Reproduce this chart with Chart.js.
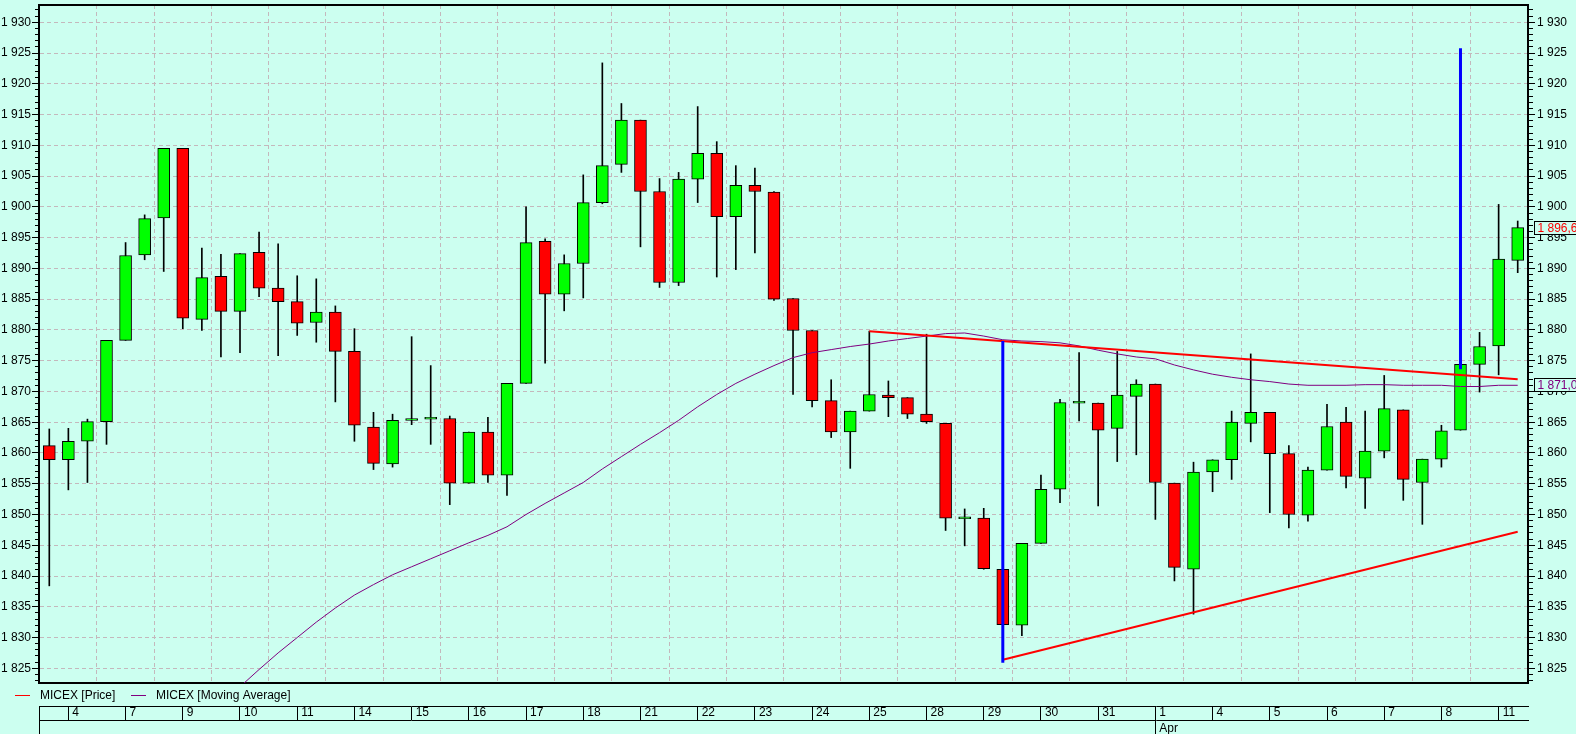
<!DOCTYPE html>
<html>
<head>
<meta charset="utf-8">
<title>MICEX</title>
<script src="https://cdn.jsdelivr.net/npm/chart.js@4.4.1/dist/chart.umd.min.js"></script>
<style>
    html, body { margin: 0; padding: 0; background: #ccfff0; }
    #wrap { width: 1576px; height: 734px; }
</style>
</head>
<body>
<div id="wrap"><canvas id="graficoMicex" width="1576" height="734"></canvas></div>
<script>
// candle values, one per period (3 per trading day)
const opens = [1861.2, 1858.9, 1861.9, 1865.1, 1878.3, 1892.2, 1898.2, 1909.5, 1881.7, 1888.7,
    1883.0, 1892.6, 1886.8, 1884.6, 1881.2, 1882.9, 1876.5, 1864.2, 1858.2, 1865.3,
    1865.5, 1865.6, 1855.1, 1863.4, 1856.4, 1871.3, 1894.4, 1885.8, 1890.8, 1900.7,
    1906.9, 1914.1, 1902.5, 1887.7, 1904.5, 1908.7, 1898.4, 1903.5, 1902.4, 1885.1,
    1879.9, 1868.5, 1863.4, 1866.8, 1869.4, 1869.0, 1866.3, 1864.8, 1849.3, 1849.4,
    1841.1, 1832.0, 1845.3, 1854.1, 1868.1, 1868.1, 1864.0, 1869.2, 1871.2, 1855.1,
    1841.1, 1856.9, 1858.9, 1864.8, 1866.6, 1859.9, 1849.9, 1857.2, 1865.0, 1855.9,
    1860.3, 1867.0, 1855.2, 1859.0, 1863.7, 1874.4, 1877.4, 1891.3];
const highs = [1863.9, 1864.0, 1865.5, 1878.3, 1894.2, 1898.7, 1909.5, 1909.5, 1893.3, 1892.3,
    1892.4, 1895.9, 1894.0, 1888.8, 1888.3, 1883.9, 1880.2, 1866.6, 1866.3, 1878.9,
    1874.2, 1866.0, 1863.4, 1865.8, 1871.3, 1900.0, 1894.8, 1892.2, 1905.2, 1923.4,
    1916.8, 1914.1, 1904.6, 1905.6, 1916.3, 1910.6, 1906.7, 1906.3, 1902.5, 1885.1,
    1879.9, 1871.9, 1866.8, 1879.8, 1871.7, 1869.0, 1879.3, 1864.8, 1850.9, 1851.0,
    1841.1, 1845.3, 1856.4, 1868.7, 1876.3, 1868.1, 1876.5, 1871.9, 1871.2, 1855.1,
    1858.5, 1858.9, 1866.8, 1876.1, 1866.6, 1861.2, 1857.7, 1867.9, 1867.4, 1866.8,
    1872.6, 1867.0, 1859.0, 1864.5, 1874.4, 1879.6, 1900.4, 1897.7];
const lows = [1838.4, 1854.0, 1855.2, 1861.4, 1878.3, 1891.4, 1889.5, 1880.2, 1879.9, 1875.6,
    1876.3, 1885.4, 1875.8, 1879.1, 1878.0, 1868.3, 1861.9, 1857.3, 1857.7, 1864.6,
    1861.4, 1851.6, 1855.1, 1855.2, 1853.1, 1871.3, 1874.6, 1883.1, 1885.2, 1900.5,
    1905.6, 1893.5, 1886.9, 1887.2, 1900.7, 1888.6, 1889.8, 1892.5, 1884.8, 1869.5,
    1867.5, 1862.5, 1857.5, 1866.8, 1865.9, 1865.6, 1864.8, 1847.4, 1844.9, 1841.1,
    1832.0, 1830.3, 1845.3, 1851.9, 1865.2, 1851.4, 1858.6, 1859.7, 1849.2, 1839.2,
    1833.8, 1853.7, 1855.7, 1861.8, 1850.3, 1847.8, 1848.9, 1857.2, 1854.3, 1851.0,
    1859.2, 1852.3, 1848.4, 1857.7, 1863.7, 1869.9, 1872.7, 1889.3];
const closes = [1858.9, 1861.9, 1865.1, 1878.3, 1892.1, 1898.1, 1909.5, 1881.9, 1888.5, 1883.0,
    1892.4, 1886.8, 1884.6, 1881.1, 1882.9, 1876.5, 1864.5, 1858.3, 1865.3, 1865.6,
    1865.8, 1855.1, 1863.4, 1856.4, 1871.3, 1894.2, 1885.8, 1890.8, 1900.7, 1906.7,
    1914.1, 1902.5, 1887.7, 1904.5, 1908.7, 1898.4, 1903.5, 1902.5, 1885.0, 1879.9,
    1868.5, 1863.4, 1866.8, 1869.5, 1869.0, 1866.3, 1865.1, 1849.4, 1849.6, 1841.2,
    1832.1, 1845.3, 1854.1, 1868.2, 1868.4, 1863.7, 1869.4, 1871.2, 1855.2, 1841.4,
    1856.9, 1858.9, 1865.0, 1866.6, 1859.9, 1850.0, 1857.2, 1864.3, 1856.2, 1860.3,
    1867.2, 1855.7, 1859.0, 1863.6, 1874.4, 1877.3, 1891.5, 1896.63];

// moving average, starting at period maStart
const maStart = 9;
const maValues = [1819.5, 1822.0, 1824.8, 1827.5, 1830.0, 1832.5, 1834.8, 1836.9, 1838.6, 1840.2,
    1841.5, 1842.8, 1844.1, 1845.4, 1846.6, 1848.0, 1850.0, 1851.8, 1853.5, 1855.2,
    1857.4, 1859.4, 1861.4, 1863.3, 1865.3, 1867.5, 1869.5, 1871.3, 1872.8, 1874.2,
    1875.5, 1876.3, 1876.8, 1877.3, 1877.7, 1878.2, 1878.6, 1879.0, 1879.4, 1879.5,
    1879.0, 1878.4, 1878.2, 1878.1, 1877.9, 1877.4, 1876.7, 1876.1, 1875.6, 1875.3,
    1874.3, 1873.5, 1872.8, 1872.3, 1871.9, 1871.6, 1871.2, 1871.0, 1871.0, 1871.0,
    1871.1, 1871.1, 1871.0, 1871.0, 1871.0, 1870.8, 1870.8, 1871.0, 1871.0];

// drawn lines: [period, value]
const resistanceLine = [[43, 1879.8], [77, 1872.0]];
const supportLine = [[50, 1826.4], [77, 1847.2]];
const projectionA = [[50, 1825.9], [50, 1878.2]];
const projectionB = [[74, 1873.6], [74, 1925.8]];

// date axis
const dayStarts = [1, 4, 7, 10, 13, 16, 19, 22, 25, 28, 31, 34, 37, 40, 43, 46, 49, 52, 55, 58, 61, 64, 67, 70, 73, 76];
const dayLabels = ['4', '7', '9', '10', '11', '14', '15', '16', '17', '18', '21', '22', '23', '24', '25', '28', '29', '30', '31', '1', '4', '5', '6', '7', '8', '11'];
const monthStarts = [58];
const monthLabels = ['Apr'];

const xMin = -0.54, xMax = 77.54;
const yMin = 1822.61, yMax = 1932.81;

const bg = '#ccfff0';
const gridColor = '#c4b8bc';
const fontFamily = '"Liberation Sans", Arial, sans-serif';

Chart.defaults.font.family = fontFamily;
Chart.defaults.font.size = 12;
Chart.defaults.color = '#000';

function fmt(v, decimals) {
    const parts = v.toFixed(decimals).split('.');
    const intPart = parts[0].replace(/\B(?=(\d{3})+(?!\d))/g, ' ');
    return parts.length > 1 ? intPart + ',' + parts[1] : intPart;
}

function toPoints(arr) {
    return arr.map(p => ({x: p[0], y: p[1]}));
}

function integerTicks(scale) {
    const ticks = [];
    for (let v = Math.ceil(scale.min); v <= Math.floor(scale.max); v++) ticks.push({value: v});
    scale.ticks = ticks;
}

function noPadding(scale) {
    scale.paddingTop = 0;
    scale.paddingBottom = 0;
    scale.paddingLeft = 0;
    scale.paddingRight = 0;
}

const isMajor = ctx => ctx.tick && ctx.tick.value % 5 === 0;

const background = {
    id: 'background',
    beforeDraw(chart) {
        const c = chart.ctx;
        c.save();
        c.fillStyle = bg;
        c.fillRect(0, 0, chart.width, chart.height);
        c.restore();
    }
};

const legendX = [15, 131];
const seriesLegend = {
    id: 'seriesLegend',
    afterDraw(chart) {
        const c = chart.ctx;
        const y = chart.chartArea.bottom + 12.5;
        const items = chart.data.datasets.filter(d => d.inLegend);
        c.save();
        c.font = '12px ' + fontFamily;
        c.textBaseline = 'middle';
        items.forEach((d, i) => {
            const x = legendX[i];
            c.strokeStyle = d.legendColor;
            c.lineWidth = 1;
            c.beginPath();
            c.moveTo(x, y);
            c.lineTo(x + 15, y);
            c.stroke();
            c.fillStyle = '#000';
            c.fillText(d.label, x + 25, y);
        });
        c.restore();
    }
};

const lastValues = {
    id: 'lastValues',
    afterDraw(chart) {
        const c = chart.ctx;
        const ys = chart.scales.y;
        const tags = [
            {value: closes[closes.length - 1], color: '#ff0000'},
            {value: maValues[maValues.length - 1], color: '#800080'}
        ];
        c.save();
        c.font = '12px ' + fontFamily;
        c.textBaseline = 'middle';
        tags.forEach(t => {
            const y = Math.round(ys.getPixelForValue(t.value));
            const x = chart.chartArea.right + 6.5;
            c.fillStyle = bg;
            c.fillRect(x, y - 6.5, 60, 13);
            c.strokeStyle = '#000';
            c.lineWidth = 1;
            c.strokeRect(x, y - 6.5, 60, 13);
            c.fillStyle = t.color;
            c.fillText(fmt(t.value, 2), x + 3, y + 0.5);
        });
        c.restore();
    }
};

const ctx = document.getElementById('graficoMicex').getContext('2d');

const chart = new Chart(ctx, {
    type: 'line',
    data: {
        datasets: [
            {
                type: 'line', label: 'projection A', data: toPoints(projectionA),
                borderColor: '#0000ff', borderWidth: 3, pointRadius: 0, order: 0,
                xAxisID: 'x', yAxisID: 'y'
            },
            {
                type: 'line', label: 'projection B', data: toPoints(projectionB),
                borderColor: '#0000ff', borderWidth: 3, pointRadius: 0, order: 0,
                xAxisID: 'x', yAxisID: 'y'
            },
            {
                type: 'line', label: 'resistance', data: toPoints(resistanceLine),
                borderColor: '#ff0000', borderWidth: 2, pointRadius: 0, order: 1,
                xAxisID: 'x', yAxisID: 'y'
            },
            {
                type: 'line', label: 'support', data: toPoints(supportLine),
                borderColor: '#ff0000', borderWidth: 2, pointRadius: 0, order: 1,
                xAxisID: 'x', yAxisID: 'y'
            },
            {
                type: 'bar', label: 'MICEX [Price]', inLegend: true, legendColor: '#ff0000',
                data: closes.map((c, i) => ({x: i, y: [opens[i], c]})),
                backgroundColor: c => closes[c.dataIndex] >= opens[c.dataIndex] ? '#00ff00' : '#ff0000',
                borderColor: '#000', borderWidth: 1, borderSkipped: false,
                barThickness: 12, grouped: false, order: 3,
                xAxisID: 'x', yAxisID: 'y'
            },
            {
                type: 'line', label: 'MICEX [Moving Average]', inLegend: true, legendColor: '#800080',
                data: maValues.map((v, k) => ({x: maStart + k, y: v})),
                borderColor: '#800080', borderWidth: 1, pointRadius: 0, order: 2,
                xAxisID: 'x', yAxisID: 'y'
            },
            {
                type: 'bar', label: 'wicks',
                data: highs.map((h, i) => ({x: i, y: [lows[i], h]})),
                backgroundColor: '#000', borderWidth: 0,
                barThickness: 1, grouped: false, order: 4,
                xAxisID: 'x', yAxisID: 'y'
            }
        ]
    },
    options: {
        responsive: false,
        animation: false,
        events: [],
        layout: { padding: { top: 5, left: 0, right: 0, bottom: 0 } },
        plugins: {
            legend: { display: false },
            tooltip: { enabled: false }
        },
        scales: {
            x: {
                type: 'linear', position: 'bottom', weight: 0, min: xMin, max: xMax, offset: false,
                afterBuildTicks: s => { s.ticks = dayStarts.map(v => ({value: v})); },
                afterFit: s => { s.height = 23; noPadding(s); },
                ticks: { display: false },
                grid: { color: gridColor, lineWidth: 1, drawTicks: false },
                border: { color: '#000', width: 2, dash: [4, 3] }
            },
            x2: {
                type: 'linear', position: 'bottom', weight: 1, min: xMin, max: xMax, offset: false,
                afterBuildTicks: s => { s.ticks = [{value: xMin}].concat(dayStarts.map(v => ({value: v}))); },
                afterFit: s => { s.height = 14; noPadding(s); },
                ticks: {
                    autoSkip: false, maxRotation: 0, minRotation: 0, align: 'start',
                    labelOffset: 4, padding: -15,
                    callback: (v, i) => i === 0 ? '' : dayLabels[i - 1]
                },
                grid: { drawOnChartArea: false, drawTicks: true, tickLength: 14, tickColor: '#000', tickWidth: 1 },
                border: { color: '#000', width: 1 }
            },
            x3: {
                type: 'linear', position: 'bottom', weight: 2, min: xMin, max: xMax, offset: false,
                afterBuildTicks: s => { s.ticks = [{value: xMin}].concat(monthStarts.map(v => ({value: v}))); },
                afterFit: s => { s.height = 14; noPadding(s); },
                ticks: {
                    autoSkip: false, maxRotation: 0, minRotation: 0, align: 'start',
                    labelOffset: 4, padding: -13,
                    callback: (v, i) => i === 0 ? '' : monthLabels[i - 1]
                },
                grid: { drawOnChartArea: false, drawTicks: true, tickLength: 14, tickColor: '#000', tickWidth: 1 },
                border: { color: '#000', width: 1 }
            },
            xTop: {
                type: 'linear', position: 'top', min: xMin, max: xMax, offset: false,
                afterFit: s => { s.height = 0; noPadding(s); },
                ticks: { display: false },
                grid: { display: false },
                border: { display: true, color: '#000', width: 2 }
            },
            y: {
                type: 'linear', position: 'left', min: yMin, max: yMax,
                afterBuildTicks: integerTicks,
                afterFit: s => { s.width = 39; noPadding(s); },
                ticks: {
                    autoSkip: false, padding: 1,
                    callback: v => v % 5 === 0 ? fmt(v, 0) : ''
                },
                grid: {
                    color: c => isMajor(c) ? gridColor : 'rgba(0,0,0,0)',
                    lineWidth: 1,
                    tickColor: '#000', tickLength: 7, tickWidth: 1,
                    tickBorderDash: c => isMajor(c) ? [] : [0, 3, 4, 50]
                },
                border: { color: '#000', width: 2, dash: [4, 3] }
            },
            y2: {
                type: 'linear', position: 'right', min: yMin, max: yMax,
                afterBuildTicks: integerTicks,
                afterFit: s => { s.width = 48; noPadding(s); },
                ticks: {
                    autoSkip: false, padding: 2,
                    callback: v => v % 5 === 0 ? fmt(v, 0) : ''
                },
                grid: {
                    drawOnChartArea: false,
                    tickColor: '#000', tickLength: 7, tickWidth: 1,
                    tickBorderDash: c => isMajor(c) ? [] : [4, 50]
                },
                border: { color: '#000', width: 2 }
            }
        }
    },
    plugins: [background, seriesLegend, lastValues]
});
</script>
</body>
</html>
